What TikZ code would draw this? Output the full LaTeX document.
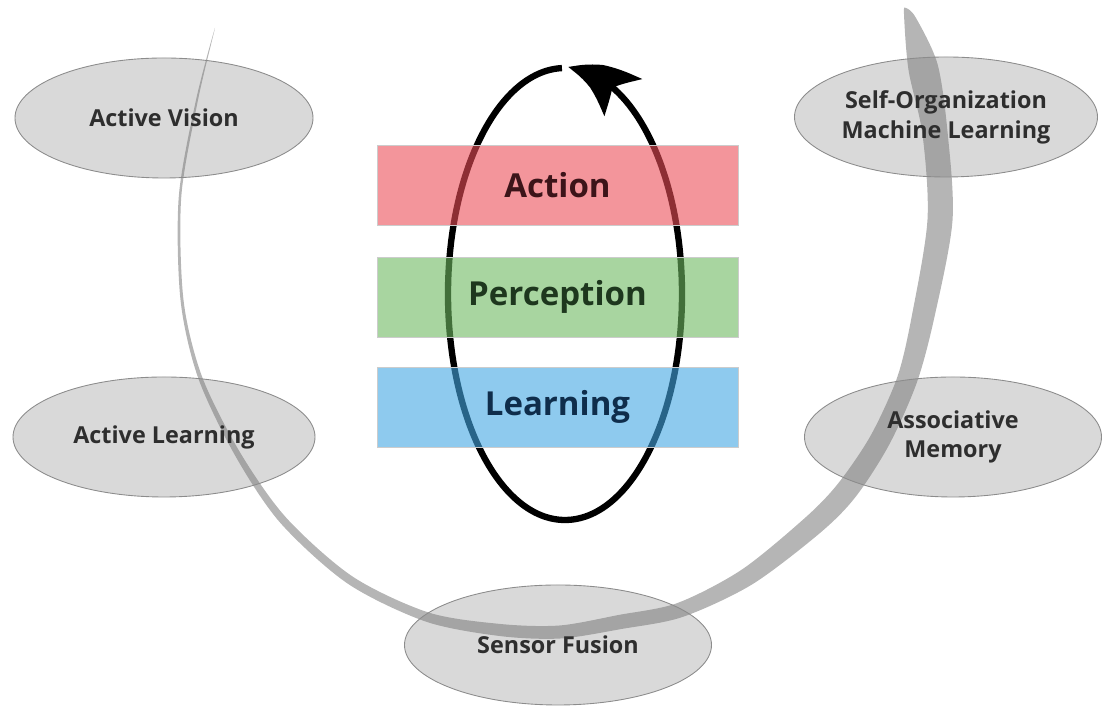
\documentclass[tikz,border=0pt]{standalone}
\usepackage{fontspec}
\setmainfont{Open Sans}
\usetikzlibrary{shapes.geometric,arrows.meta,bending}
\pgfdeclarelayer{background}
\pgfsetlayers{background,main}
\definecolor{actfill}{RGB}{235,78,88}
\definecolor{perfill}{RGB}{110,185,97}
\definecolor{lrnfill}{RGB}{67,167,227}
\definecolor{acttext}{RGB}{60,20,25}
\definecolor{pertext}{RGB}{30,55,30}
\definecolor{lrntext}{RGB}{15,45,75}

\begin{document}
\begin{tikzpicture}[
  bubble/.style={ellipse, draw=black!45, line width=0.5pt, fill=black!53, fill opacity=0.28, text opacity=1,
    inner sep=0pt, minimum height=2.4cm, align=center, text=black!82,
    font=\fontsize{13.3}{17}\selectfont\bfseries},
  band/.style={rectangle, draw=black!20, line width=0.4pt, fill opacity=0.6, text opacity=1,
    minimum width=7.22cm, minimum height=1.6cm, font=\fontsize{18.8}{22}\selectfont\bfseries},
  loopline/.style={line width=3.6pt, black}]
\useasboundingbox (0,0) rectangle (22.04,14.12);

\begin{pgfonlayer}{background}
\fill[black!29] plot[smooth cycle, tension=0.5] coordinates {
  (4.30,13.56) (3.92,12.12) (3.575,10.18) (3.61,8.12) (3.96,6.57) (4.69,5.03) (5.60,3.67)
  (6.95,2.45) (8.51,1.69) (9.99,1.40) (11.21,1.35) (12.43,1.54) (13.65,1.78) (15.04,2.43)
  (16.40,3.46) (17.11,4.18) (17.78,5.22) (18.33,6.45) (18.68,7.74) (19.05,9.71) (18.95,11.49)
  (18.75,12.84) (18.32,13.76) (18.12,13.96) (18.08,13.84)
  (18.17,12.72) (18.45,11.43) (18.55,9.73) (18.24,7.82) (17.95,6.59) (17.42,5.42) (16.77,4.46)
  (16.12,3.78) (14.84,2.73) (13.55,2.06) (12.37,1.82) (11.19,1.61) (10.01,1.64) (8.57,1.87)
  (7.05,2.59) (5.72,3.77) (4.79,5.09) (4.04,6.59) (3.67,8.12) (3.625,10.18) (3.96,12.12)};
\end{pgfonlayer}

\node[bubble, minimum width=5.96cm] (vision) at (3.28,11.76) {Active Vision};
\node[bubble, minimum width=6.06cm] (selforg) at (18.92,11.78) {Self-Organization\\Machine Learning};
\node[bubble, minimum width=6.04cm] (actlearn) at (3.28,5.38) {Active Learning};
\node[bubble, minimum width=5.94cm] (memory) at (19.06,5.38) {Associative\\Memory};
\node[bubble, minimum width=6.14cm] (fusion) at (11.16,1.22) {Sensor Fusion};

\draw[loopline, -{Stealth[length=12mm, width=10.5mm, inset=2.5mm, bend]}] (11.3,8.24) ++(91.5:2.34 and 4.52)
  arc[start angle=91.5, end angle=448.5, x radius=2.34, y radius=4.52];

\node[band, fill=actfill, text=acttext] (action) at (11.15,10.42) {Action};
\node[band, fill=perfill, text=pertext] (percep) at (11.15,8.18) {Perception};
\node[band, fill=lrnfill, text=lrntext] (learn) at (11.15,5.98) {Learning};
\end{tikzpicture}
\end{document}
